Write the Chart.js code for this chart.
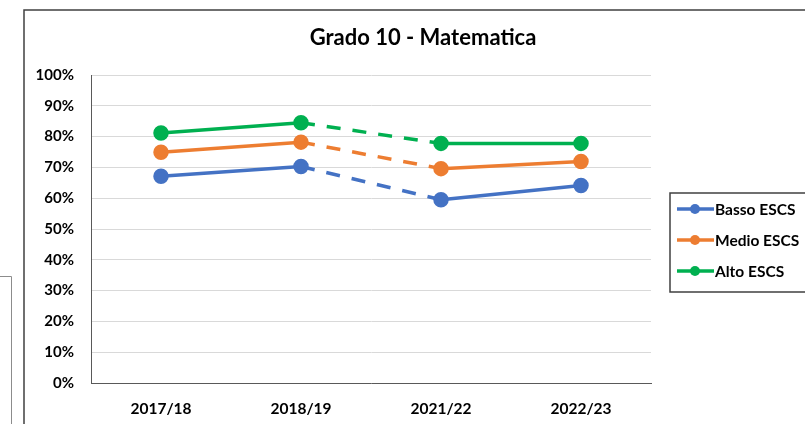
<!DOCTYPE html>
<html>
<head>
<meta charset="utf-8">
<script src="https://cdn.jsdelivr.net/npm/chart.js@4/dist/chart.umd.min.js"></script>
<style>
  html, body { margin: 0; padding: 0; background: #fff; }
  #wrap { width: 805px; height: 424px; }
</style>
</head>
<body>
<div id="wrap"><canvas id="myChart" width="805" height="424"></canvas></div>
<script>
const categories = ['2017/18', '2018/19', '2021/22', '2022/23'];
const basso = [67.1, 70.3, 59.5, 64.1];
const medio = [74.9, 78.2, 69.6, 71.9];
const alto = [81.2, 84.5, 77.8, 77.8];
const yTicks = [0, 10, 20, 30, 40, 50, 60, 70, 80, 90, 100];

const FONT = 'Lato, "Liberation Sans", sans-serif';

// gap between 2018/19 and 2021/22 is drawn dashed
function gapDash(c) {
  return c.p0DataIndex === 1 ? [14, 12] : undefined;
}

function series(label, values, color) {
  return {
    label: label,
    data: values,
    borderColor: color,
    backgroundColor: color,
    pointBackgroundColor: color,
    pointBorderColor: color,
    borderWidth: 3.5,
    pointRadius: 6,
    pointHoverRadius: 6,
    borderCapStyle: 'butt',
    tension: 0,
    segment: { borderDash: gapDash }
  };
}

// frames, title and legend box
const decor = {
  id: 'decor',
  beforeDraw(chart) {
    const c = chart.ctx;
    c.save();
    c.strokeStyle = '#8c8c8c';
    c.lineWidth = 1;
    c.beginPath();
    c.moveTo(0, 276.5);
    c.lineTo(11.5, 276.5);
    c.lineTo(11.5, 424);
    c.stroke();

    c.strokeStyle = '#404040';
    c.lineWidth = 1.5;
    c.beginPath();
    c.moveTo(24, 424);
    c.lineTo(24, 10);
    c.lineTo(805, 10);
    c.stroke();
    c.restore();
  },
  afterDraw(chart) {
    const c = chart.ctx;
    c.save();
    c.fillStyle = '#000';
    c.font = 'bold 22px ' + FONT;
    c.textAlign = 'center';
    c.textBaseline = 'middle';
    c.fillText('Grado 10 - Matematica', 423, 38);

    // legend
    c.strokeStyle = '#404040';
    c.lineWidth = 1.5;
    c.beginPath();
    c.moveTo(805, 193);
    c.lineTo(670, 193);
    c.lineTo(670, 292);
    c.lineTo(805, 292);
    c.stroke();

    c.font = 'bold 15.5px ' + FONT;
    c.textAlign = 'left';
    chart.data.datasets.forEach((ds, i) => {
      const y = 209 + i * 31;
      c.strokeStyle = ds.borderColor;
      c.lineWidth = 3.5;
      c.beginPath();
      c.moveTo(677, y);
      c.lineTo(714, y);
      c.stroke();
      c.fillStyle = ds.borderColor;
      c.beginPath();
      c.arc(695, y, 5, 0, Math.PI * 2);
      c.fill();
      c.fillStyle = '#000';
      c.fillText(ds.label, 715, y + 1);
    });
    c.restore();
  }
};

const ctx = document.getElementById('myChart');

const myChart = new Chart(ctx, {
  type: 'line',
  data: {
    labels: categories,
    datasets: [
      series('Basso ESCS', basso, '#4472C4'),
      series('Medio ESCS', medio, '#ED7D31'),
      series('Alto ESCS', alto, '#00B050')
    ]
  },
  options: {
    responsive: false,
    animation: false,
    devicePixelRatio: 1,
    layout: { padding: { left: 24, top: 75, right: 154, bottom: 0 } },
    plugins: {
      legend: { display: false },
      title: { display: false },
      tooltip: { enabled: false }
    },
    scales: {
      x: {
        offset: true,
        grid: { drawOnChartArea: false, drawTicks: false },
        border: { display: true, color: '#595959', width: 1 },
        ticks: {
          padding: 17,
          color: '#000',
          font: { family: FONT, size: 15.5, weight: 'bold' }
        },
        afterFit(scale) { scale.height = 41; }
      },
      y: {
        min: 0,
        max: 100,
        afterBuildTicks(scale) { scale.ticks = yTicks.map(v => ({ value: v })); },
        grid: { color: '#d9d9d9', drawTicks: false },
        border: { display: true, color: '#595959', width: 1 },
        ticks: {
          padding: 17,
          color: '#000',
          font: { family: FONT, size: 15, weight: 'bold' },
          callback: v => v + '%'
        },
        afterFit(scale) { scale.width = 67; }
      }
    }
  },
  plugins: [decor]
});
</script>
</body>
</html>
